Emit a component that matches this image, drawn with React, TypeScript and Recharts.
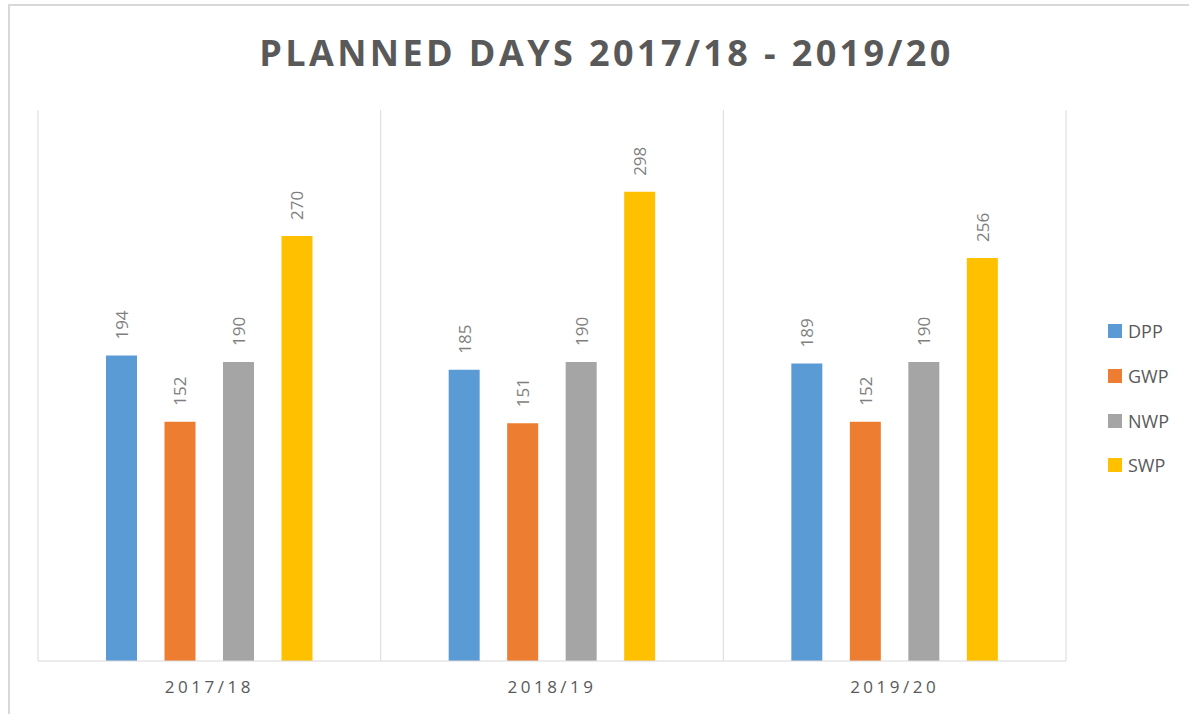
import React from "react";
import { BarChart, Bar, XAxis, YAxis, CartesianGrid, Legend, LabelList } from "recharts";

const categories = ["2017/18", "2018/19", "2019/20"];
const dpp = [194, 185, 189];
const gwp = [152, 151, 152];
const nwp = [190, 190, 190];
const swp = [270, 298, 256];

const seriesNames = ["DPP", "GWP", "NWP", "SWP"];
const seriesColors = ["#5B9BD5", "#ED7D31", "#A5A5A5", "#FFC000"];
const seriesValues = [dpp, gwp, nwp, swp];

const data = categories.map((c, i) => {
  const row: any = { name: c };
  seriesNames.forEach((s, j) => {
    row[s] = seriesValues[j][i];
  });
  return row;
});

const FONT = "'Open Sans', 'Noto Sans', sans-serif";

const RotLabel = (props: any) => {
  const { x, y, width, value } = props;
  const cx = x + width / 2;
  const cy = y - 16;
  return (
    <text
      x={cx}
      y={cy}
      transform={`rotate(-90, ${cx}, ${cy})`}
      textAnchor="start"
      dominantBaseline="central"
      fill="#7F7F7F"
      fontSize={17}
      fontFamily={FONT}
    >
      {value}
    </text>
  );
};

const Tick = (props: any) => {
  const { x, y, payload } = props;
  return (
    <text
      x={x}
      y={y + 24}
      textAnchor="middle"
      fill="#595959"
      fontSize={17}
      fontFamily={FONT}
      letterSpacing={3.5}
    >
      {payload.value}
    </text>
  );
};

const LegendContent = (props: any) => {
  const { payload } = props;
  return (
    <div style={{ fontFamily: FONT }}>
      {(payload || []).map((p: any) => (
        <div key={p.value} style={{ display: "flex", alignItems: "center", height: 44.7 }}>
          <div style={{ width: 14, height: 14, background: p.color, marginRight: 6 }} />
          <span style={{ fontSize: 18, color: "#595959" }}>{p.value}</span>
        </div>
      ))}
    </div>
  );
};

export default function App() {
  return (
    <div style={{ position: "fixed", left: 0, top: 0, width: 1189, height: 714, overflow: "hidden", background: "#fff" }}>
      <div
        style={{
          position: "absolute",
          left: 8,
          top: 4,
          width: 1300,
          height: 800,
          border: "2px solid #D9D9D9",
          boxSizing: "border-box",
        }}
      />
      <div
        style={{
          position: "absolute",
          left: 0,
          top: 35,
          width: 1213,
          textAlign: "center",
          fontFamily: FONT,
          fontWeight: 700,
          fontSize: 36,
          letterSpacing: 3.4,
          color: "#595959",
          lineHeight: "36px",
        }}
      >
        PLANNED DAYS 2017/18 - 2019/20
      </div>
      <div style={{ position: "absolute", left: 0, top: 0 }}>
        <BarChart
          width={1189}
          height={714}
          data={data}
          margin={{ top: 110, right: 43, left: 38, bottom: 13 }}
          barSize={31}
          barGap={27.5}
        >
          <CartesianGrid
            horizontal={false}
            stroke="#D9D9D9"
            verticalCoordinatesGenerator={({ offset }: any) =>
              [0, 1, 2, 3].map((i) => offset.left + (i * offset.width) / 3)
            }
          />
          <XAxis
            dataKey="name"
            height={40}
            axisLine={{ stroke: "#D9D9D9" }}
            tickLine={false}
            tick={<Tick />}
            interval={0}
          />
          <YAxis hide domain={[0, 350]} />
          <Legend
            layout="vertical"
            align="right"
            verticalAlign="top"
            content={<LegendContent />}
            wrapperStyle={{ left: 1108, top: 309, width: 80 }}
          />
          {seriesNames.map((s, j) => (
            <Bar key={s} dataKey={s} fill={seriesColors[j]} isAnimationActive={false}>
              <LabelList dataKey={s} content={<RotLabel />} />
            </Bar>
          ))}
        </BarChart>
      </div>
    </div>
  );
}
